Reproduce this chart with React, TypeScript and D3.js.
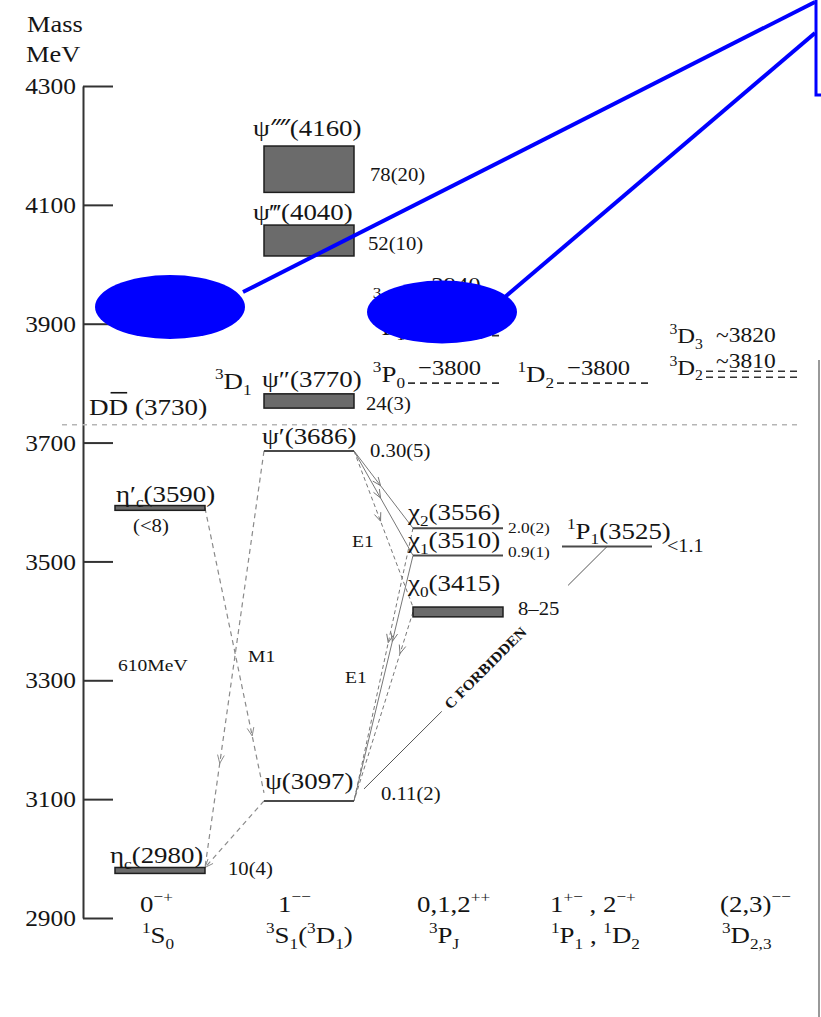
import React, { useEffect, useRef } from "react";
import * as d3 from "d3";

// ---- mass axis ----
const massDomain = [2900, 4300];
const massTicks = [2900, 3100, 3300, 3500, 3700, 3900, 4100, 4300];

// ---- spectroscopic columns ----
const columns = ["1S0", "3S1", "3PJ", "1P1-1D2", "3D23"];
const columnJPC = ["0^{−+}", "1^{−−}", "0,1,2^{++}", "1^{+−} , 2^{−+}", "(2,3)^{−−}"];
const columnTerm = ["^{1}S_{0}", "^{3}S_{1}(^{3}D_{1})", "^{3}P_{J}", "^{1}P_{1} , ^{1}D_{2}", "^{3}D_{2,3}"];

// ---- observed charmonium states ----
const stateLabels = [
  "η_{c}(2980)", "η′_{c}(3590)", "ψ(3097)", "ψ′(3686)", "ψ″(3770)",
  "ψ‴(4040)", "ψ⁗(4160)", "χ_{0}(3415)", "χ_{1}(3510)", "χ_{2}(3556)", "^{1}P_{1}(3525)",
];
const stateMass = [2980, 3590, 3097, 3686, 3770, 4040, 4160, 3415, 3510, 3556, 3525];
const stateColumn = [0, 0, 1, 1, 1, 1, 1, 2, 2, 2, 3];
// total widths in MeV (drawn as the box height when broad)
const stateWidth = [10, 8, 0.11, 0.3, 24, 52, 78, 16.5, 0.9, 2.0, 1.1];
const stateWidthLabels = ["10(4)", "(<8)", "0.11(2)", "0.30(5)", "24(3)", "52(10)", "78(20)", "8–25", "0.9(1)", "2.0(2)", "<1.1"];

// ---- predicted (unobserved) states ----
const predictedTerms = ["^{3}P_{0}", "^{1}D_{2}", "^{3}D_{3}", "^{3}D_{2}", "^{3}P_{2}", "^{3}P_{1}"];
const predictedMass = [3800, 3800, 3820, 3810, 3940, 3880];
const predictedValueLabels = ["−3800", "−3800", "~3820", "~3810", "~3940", "~3880"];
const predictedColumn = [2, 3, 4, 4, 2, 2];

// ---- open-charm threshold ----
const thresholdMass = 3730;
const thresholdLabel = "DD (3730)";

// ---- radiative transitions (indices into the state arrays) ----
const m1From = [3, 1, 2];
const m1To = [0, 2, 0];
const e1From = [3, 3, 3, 9, 8, 7];
const e1To = [9, 8, 7, 2, 2, 2];
const forbiddenFrom = 10;
const forbiddenTo = 2;
const forbiddenText = "C FORBIDDEN";

// ---- free annotations ----
const annotationText = ["610MeV", "M1", "E1", "E1"];
const annotationMass = [3315, 3330, 3525, 3295];

const W = 821;
const H = 1017;
const INK = "#151515";
const FONT = "'Liberation Serif', 'Times New Roman', serif";
const SX = 1.12;
const BLUE = "#0000ff";

type Seg = { t: string; k: "n" | "sup" | "sub" };
function parse(m: string): Seg[] {
  const out: Seg[] = [];
  let i = 0;
  let buf = "";
  while (i < m.length) {
    const c = m[i];
    if ((c === "^" || c === "_") && m[i + 1] === "{") {
      if (buf) { out.push({ t: buf, k: "n" }); buf = ""; }
      const j = m.indexOf("}", i + 2);
      out.push({ t: m.slice(i + 2, j), k: c === "^" ? "sup" : "sub" });
      i = j + 1;
    } else {
      buf += c;
      i++;
    }
  }
  if (buf) out.push({ t: buf, k: "n" });
  return out;
}

// text with ^{..} / _{..} markup
function Rich({ x, y, m, size, anchor = "start", sx = SX, weight = "normal", fill = INK, rotate = 0 }: any) {
  const segs = parse(m);
  let cur = 0;
  const spans = segs.map((s, i) => {
    const target = s.k === "sup" ? -0.42 * size : s.k === "sub" ? 0.24 * size : 0;
    const dy = target - cur;
    cur = target;
    const fs = s.k === "n" ? size : size * 0.64;
    return (
      <tspan key={i} dy={dy || undefined} fontSize={fs}>
        {s.t}
      </tspan>
    );
  });
  return (
    <text
      transform={`translate(${x},${y}) rotate(${rotate}) scale(${sx},1)`}
      textAnchor={anchor}
      fontSize={size}
      fontFamily={FONT}
      fontWeight={weight}
      fill={fill}
    >
      {spans}
    </text>
  );
}

function Chevron({ p, u, size = 9, color = "#777" }: any) {
  const a = (22 * Math.PI) / 180;
  const rot = (v: number[], t: number) => [v[0] * Math.cos(t) - v[1] * Math.sin(t), v[0] * Math.sin(t) + v[1] * Math.cos(t)];
  const b = [-u[0], -u[1]];
  const l1 = rot(b, a);
  const l2 = rot(b, -a);
  return (
    <path
      d={`M${p[0] + l1[0] * size},${p[1] + l1[1] * size}L${p[0]},${p[1]}L${p[0] + l2[0] * size},${p[1] + l2[1] * size}`}
      fill="none"
      stroke={color}
      strokeWidth={1}
    />
  );
}

export default function App() {
  const y = d3.scaleLinear().domain(massDomain).range([918, 86]);
  const x = d3.scaleBand<string>().domain(columns).range([115, 801]).paddingInner(0.396).paddingOuter(0);
  const bw = x.bandwidth();
  const axisRef = useRef<SVGGElement>(null);

  useEffect(() => {
    if (!axisRef.current) return;
    const g = d3.select(axisRef.current);
    g.call(
      d3.axisLeft(y).tickValues(massTicks).tickSizeInner(-30).tickSizeOuter(0).tickPadding(7).tickFormat(d3.format("d")) as any
    );
    g.attr("font-family", null).attr("font-size", null);
    g.select(".domain").attr("stroke", "#333").attr("stroke-width", 2);
    g.selectAll(".tick line").attr("stroke", "#333").attr("stroke-width", 2);
    g.selectAll(".tick text")
      .attr("x", 0)
      .attr("transform", "translate(-7,0) scale(1.06,1)")
      .attr("font-size", 24)
      .attr("font-family", FONT)
      .attr("fill", INK);
  }, []);

  // level geometry
  const geom = stateMass.map((m, i) => {
    const x0 = x(columns[stateColumn[i]])!;
    const x1 = x0 + bw;
    const yc = y(m);
    const broad = stateWidth[i] >= 5;
    const h = broad ? Math.abs(y(m + stateWidth[i] / 2) - y(m - stateWidth[i] / 2)) : 0;
    return { x0, x1, yc, h, broad, top: yc - h / 2, bottom: yc + h / 2 };
  });

  // label placement, per state
  const nameDx = [-5, 1, 1, -2, -2, -11, -11, -5, -5, -5, 5];
  const nameGap = [4, 4, 12, 7, 7, 5, 10, 16, 7, 8, 8];
  const widthDx = [23, 0, 27, 16, 12, 14, 16, 15, 5, 5, 15];
  const widthDy = [5, 0, -1, 6, 9, 9, 12, 3, 2, 5, 5];
  const widthSize = [18.5, 18.5, 18.5, 18.5, 18.5, 18.5, 18.5, 18.5, 15.5, 15.5, 18];

  const seg = (a: number[], b: number[]) => {
    const dx = b[0] - a[0];
    const dy = b[1] - a[1];
    const L = Math.hypot(dx, dy);
    return { L, u: [dx / L, dy / L], at: (f: number) => [a[0] + dx * f, a[1] + dy * f] };
  };

  // M1 transitions (dashed)
  const m1Arrow = [0.75, 0.8, 1.0];
  const m1Lines = m1From.map((f, i) => {
    const gf = geom[f];
    const gt = geom[m1To[i]];
    const fromLeft = stateColumn[f] > stateColumn[m1To[i]];
    const a = fromLeft ? [gf.x0, gf.yc] : [gf.x1, gf.yc];
    const b = fromLeft ? [gt.x1, gt.top] : [gt.x0, gt.yc - 8];
    return { a, b, s: seg(a, b), f: m1Arrow[i] };
  });

  // E1 transitions
  const e1Arrow = [0.45, 0.45, 0.45, 0.42, 0.35, 0.22];
  const e1Dashed = [false, false, true, true, false, true];
  const e1Lines = e1From.map((f, i) => {
    const gf = geom[f];
    const gt = geom[e1To[i]];
    const down = stateColumn[f] < stateColumn[e1To[i]];
    const a = down ? [gf.x1, gf.yc] : [gf.x0, gf.yc];
    const b = down ? [gt.x0, gt.top] : [gt.x1, gt.yc];
    return { a, b, s: seg(a, b), f: e1Arrow[i], dashed: e1Dashed[i] };
  });

  // C-forbidden line with a gap for its text
  const fa = [geom[forbiddenTo].x1 + 10, geom[forbiddenTo].yc - 12];
  const fb = [geom[forbiddenFrom].x0 + 45, geom[forbiddenFrom].yc];
  const fs = seg(fa, fb);
  const fAngle = (Math.atan2(fs.u[1], fs.u[0]) * 180) / Math.PI;
  const fText = fs.at(0.34);
  const fn = [-fs.u[1], fs.u[0]];

  // annotation x positions
  const annX = [x(columns[0])! + 3, x(columns[0])! + bw + 43, x(columns[1])! + bw - 2, x(columns[1])! + bw - 9];

  // column footer offsets
  const jpcDx = [25, 14, 4, -12, 9];
  const termDx = [27, 2, 16, -11, 11];

  // predicted labels: term and value baselines above the dashed level
  const predTermLift = [1, 1, 28, 2, -8, 1];
  const predValueLift = [8, 8, 29, 9, 8, 8];
  const predTermSize = [24, 24, 22, 22, 24, 24];
  const predValueSize = [22, 22, 21, 21, 22, 22];
  const predX0 = predictedColumn.map((c) => x(columns[c])! - 5);

  const yT = y(thresholdMass);

  return (
    <svg width={W} height={H} style={{ position: "absolute", left: 0, top: 0, background: "#fff" }}>
      <rect width={W} height={H} fill="#fff" />

      {/* y label */}
      <Rich x={27} y={32} m="Mass" size={24} sx={1.1} />
      <Rich x={26} y={62} m="MeV" size={24} sx={1.1} />

      <g ref={axisRef} transform="translate(83,0)" />

      {/* open-charm threshold */}
      <line x1={62} x2={800} y1={yT} y2={yT} stroke="#b5b5b5" strokeWidth={1.5} strokeDasharray="5 5" />
      <Rich x={89} y={yT - 10} m={thresholdLabel} size={24} sx={1.13} />
      <line x1={89 + 0.722 * 24 * 1.13 + 2} x2={89 + 2 * 0.722 * 24 * 1.13 - 1} y1={yT - 32} y2={yT - 32} stroke={INK} strokeWidth={1.6} />
      <Rich x={geom[4].x0 - 49} y={geom[4].top - 5} m="^{3}D_{1}" size={24} />

      {/* M1 transitions */}
      {m1Lines.map((l, i) => (
        <g key={"m1" + i}>
          <line x1={l.a[0]} y1={l.a[1]} x2={l.b[0]} y2={l.b[1]} stroke="#8a8a8a" strokeWidth={1.2} strokeDasharray="5 4" />
          <Chevron p={l.s.at(l.f)} u={l.s.u} color="#8a8a8a" />
        </g>
      ))}

      {/* E1 transitions */}
      {e1Lines.map((l, i) => (
        <g key={"e1" + i}>
          <line x1={l.a[0]} y1={l.a[1]} x2={l.b[0]} y2={l.b[1]} stroke="#777" strokeWidth={1} strokeDasharray={l.dashed ? "4 3" : undefined} />
          <Chevron p={l.s.at(l.f)} u={l.s.u} color="#777" />
        </g>
      ))}

      {/* C-forbidden hadronic line */}
      <line x1={fa[0]} y1={fa[1]} x2={fs.at(0.32)[0]} y2={fs.at(0.32)[1]} stroke="#555" strokeWidth={1} />
      <line x1={fs.at(0.84)[0]} y1={fs.at(0.84)[1]} x2={fb[0]} y2={fb[1]} stroke="#555" strokeWidth={1} />
      <Rich x={fText[0] + fn[0] * 5} y={fText[1] + fn[1] * 5} m={forbiddenText} size={14.5} weight="bold" rotate={fAngle} sx={1.08} />

      {/* predicted levels */}
      {predictedMass.map((m, i) => {
        const x0 = predX0[i];
        const x1 = x(columns[predictedColumn[i]])! + bw;
        const yy = y(m);
        return (
          <g key={"p" + i}>
            <line x1={x0} x2={x1} y1={yy} y2={yy} stroke="#333" strokeWidth={1.6} strokeDasharray="7 5" />
            <Rich x={x0 - 3} y={yy - predTermLift[i]} m={predictedTerms[i]} size={predTermSize[i]} anchor="end" />
            <Rich x={x0 + 10} y={yy - predValueLift[i]} m={predictedValueLabels[i]} size={predValueSize[i]} />
          </g>
        );
      })}

      {/* observed levels */}
      {geom.map((g, i) =>
        g.broad ? (
          <rect key={"s" + i} x={g.x0} y={g.top} width={bw} height={g.h} fill="#6b6b6b" stroke="#1e1e1e" strokeWidth={1.5} />
        ) : (
          <line key={"s" + i} x1={g.x0} x2={g.x1} y1={g.yc} y2={g.yc} stroke="#4a4a4a" strokeWidth={2} />
        )
      )}

      {/* state names and widths */}
      {geom.map((g, i) => (
        <g key={"l" + i}>
          <Rich x={g.x0 + nameDx[i]} y={g.top - nameGap[i]} m={stateLabels[i]} size={24} />
          {i === 1 ? (
            <Rich x={g.x0 + 18} y={g.yc + 24} m={stateWidthLabels[i]} size={widthSize[i]} />
          ) : (
            <Rich x={g.x1 + widthDx[i]} y={g.yc + widthDy[i]} m={stateWidthLabels[i]} size={widthSize[i]} />
          )}
        </g>
      ))}

      {/* annotations */}
      {annotationText.map((t, i) => (
        <Rich key={"a" + i} x={annX[i]} y={y(annotationMass[i])} m={t} size={17.5} />
      ))}

      {/* column quantum numbers */}
      {columns.map((c, i) => (
        <g key={"c" + i}>
          <Rich x={x(c)! + jpcDx[i]} y={912} m={columnJPC[i]} size={24} />
          <Rich x={x(c)! + termDx[i]} y={943} m={columnTerm[i]} size={24} />
        </g>
      ))}

      {/* panel edge */}
      <line x1={819} x2={819} y1={360} y2={H} stroke="#999" strokeWidth={2} />

      {/* blue callout overlay */}
      <line x1={243} y1={292} x2={815} y2={2} stroke={BLUE} strokeWidth={4} />
      <line x1={505} y1={297} x2={815} y2={33} stroke={BLUE} strokeWidth={4} />
      <rect x={816} y={-5} width={20} height={100} fill="none" stroke={BLUE} strokeWidth={3} />
      <ellipse cx={170} cy={307} rx={75} ry={32} fill={BLUE} />
      <ellipse cx={442} cy={312} rx={75} ry={31.5} fill={BLUE} />
    </svg>
  );
}
